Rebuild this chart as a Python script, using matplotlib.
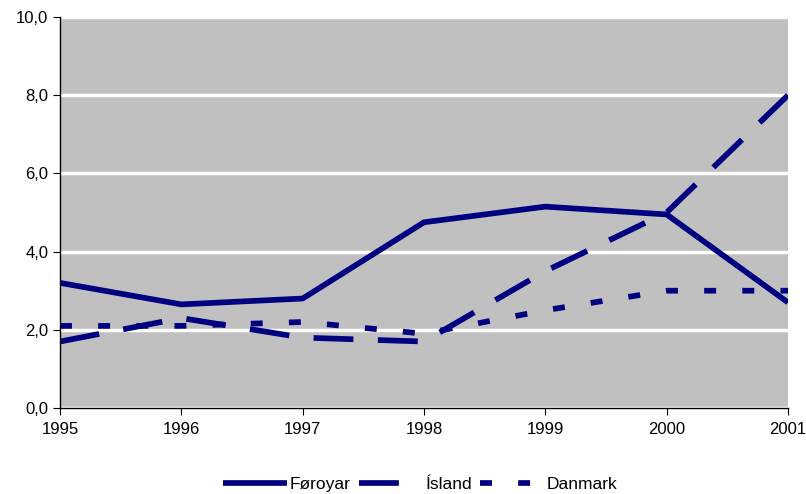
import matplotlib.pyplot as plt
from matplotlib.ticker import FuncFormatter

plt.rcParams['font.family'] = ['Liberation Sans', 'DejaVu Sans']

# ár og virði
years = [1995, 1996, 1997, 1998, 1999, 2000, 2001]
foroyar = [3.2, 2.65, 2.8, 4.75, 5.15, 4.95, 2.7]
island = [1.7, 2.3, 1.8, 1.7, 3.5, 5.0, 8.0]
danmark = [2.1, 2.1, 2.2, 1.9, 2.5, 3.0, 3.0]

navy = '#000080'

fig = plt.figure(figsize=(8.06, 4.94), dpi=100)
ax = fig.add_axes([60/806, 1 - 408/494, 728/806, 391/494])
ax.set_facecolor('#C0C0C0')

lw = 4.1
ax.plot(years, foroyar, color=navy, lw=lw, label='Føroyar', solid_capstyle='butt')
ax.plot(years, island, color=navy, lw=lw, label='Ísland', dashes=(7, 4.3), dash_capstyle='butt')
ax.plot(years, danmark, color=navy, lw=lw, label='Danmark', dashes=(2.1, 4.6), dash_capstyle='butt')

ax.set_xlim(1995, 2001)
ax.set_ylim(0, 10)
ax.set_xticks(years)
ax.set_yticks([0, 2, 4, 6, 8, 10])
ax.yaxis.set_major_formatter(FuncFormatter(lambda v, p: f'{v:.1f}'.replace('.', ',')))
ax.grid(axis='y', color='white', lw=2.5)
ax.set_axisbelow(True)

for s in ['top', 'right']:
    ax.spines[s].set_visible(False)
ax.spines['left'].set_linewidth(1)
ax.spines['bottom'].set_linewidth(1)
ax.tick_params(direction='out', length=5, labelsize=12, colors='black')
ax.tick_params(axis='x', pad=5)

ax.legend(loc='center', bbox_to_anchor=(0.495, -0.195), ncol=3, frameon=False,
          fontsize=12.5, handlelength=3.7, handletextpad=0.15, columnspacing=0.45)

fig.savefig('out.png', dpi=100)
